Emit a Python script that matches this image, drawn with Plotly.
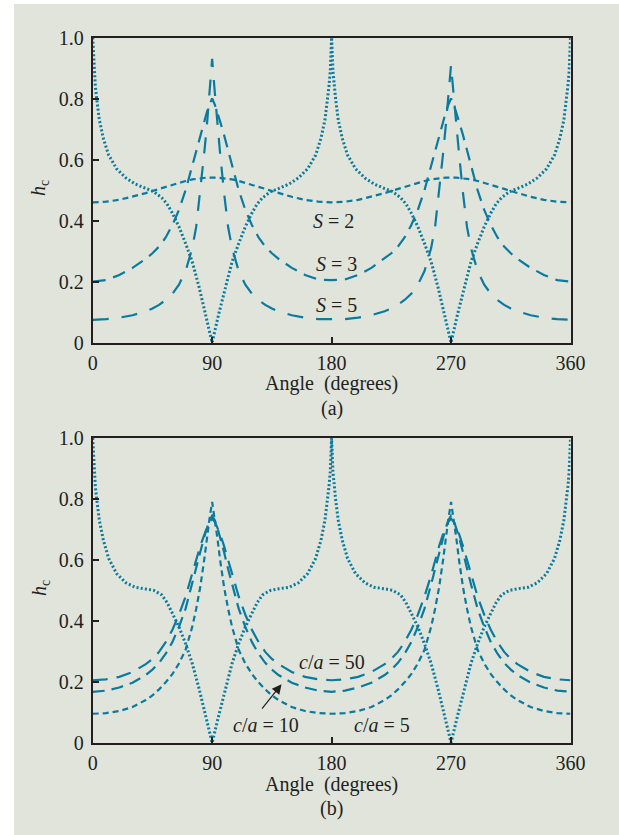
import plotly.graph_objects as go

# ---------------------------------------------------------------- data
# angle grid for the dotted reference curve (denser near the cusps)
ANG_DOT = [0, 1, 2, 3, 5, 8, 12, 18, 25, 32, 40, 46, 52, 56, 60, 65, 70, 75, 80, 85, 90,
           95, 100, 105, 110, 115, 120, 124, 128, 134, 140, 148, 155, 162, 168, 172, 175, 177, 178, 179, 180,
           181, 182, 183, 185, 188, 192, 198, 205, 212, 220, 226, 232, 236, 240, 245, 250, 255, 260, 265, 270,
           275, 280, 285, 290, 295, 300, 304, 308, 314, 320, 328, 335, 342, 348, 352, 355, 357, 358, 359, 360]

# angle grid for the dashed curves (denser near the peaks)
ANG_DSH = [0, 10, 20, 30, 40, 45, 50, 55, 60, 65, 70, 75, 78, 81, 84, 86, 88, 90,
           92, 94, 96, 99, 102, 105, 110, 115, 120, 125, 130, 135, 140, 150, 160, 170, 180,
           190, 200, 210, 220, 225, 230, 235, 240, 245, 250, 255, 258, 261, 264, 266, 268, 270,
           272, 274, 276, 279, 282, 285, 290, 295, 300, 305, 310, 315, 320, 330, 340, 350, 360]

# panel (a)
HC_DOT_A = [1.00, 0.89, 0.84, 0.80, 0.73, 0.67, 0.615, 0.57, 0.54, 0.52, 0.505, 0.495, 0.475, 0.455, 0.425, 0.38, 0.325, 0.265, 0.185, 0.095, 0.00,
            0.095, 0.185, 0.265, 0.325, 0.38, 0.425, 0.455, 0.475, 0.495, 0.505, 0.52, 0.54, 0.57, 0.615, 0.67, 0.73, 0.80, 0.84, 0.89, 1.00,
            0.89, 0.84, 0.80, 0.73, 0.67, 0.615, 0.57, 0.54, 0.52, 0.505, 0.495, 0.475, 0.455, 0.425, 0.38, 0.325, 0.265, 0.185, 0.095, 0.00,
            0.095, 0.185, 0.265, 0.325, 0.38, 0.425, 0.455, 0.475, 0.495, 0.505, 0.52, 0.54, 0.57, 0.615, 0.67, 0.73, 0.80, 0.84, 0.89, 1.00]

HC_S2 = [0.46, 0.462, 0.468, 0.478, 0.49, 0.497, 0.504, 0.511, 0.518, 0.524, 0.53, 0.535, 0.537, 0.539, 0.540, 0.541, 0.541, 0.542,
         0.541, 0.541, 0.540, 0.539, 0.537, 0.535, 0.53, 0.524, 0.518, 0.511, 0.504, 0.497, 0.49, 0.478, 0.468, 0.462, 0.46,
         0.462, 0.468, 0.478, 0.49, 0.497, 0.504, 0.511, 0.518, 0.524, 0.53, 0.535, 0.537, 0.539, 0.540, 0.541, 0.541, 0.542,
         0.541, 0.541, 0.540, 0.539, 0.537, 0.535, 0.53, 0.524, 0.518, 0.511, 0.504, 0.497, 0.49, 0.478, 0.468, 0.462, 0.46]

HC_S3 = [0.20, 0.205, 0.222, 0.245, 0.275, 0.293, 0.315, 0.345, 0.385, 0.435, 0.50, 0.58, 0.63, 0.68, 0.725, 0.755, 0.78, 0.80,
         0.78, 0.755, 0.725, 0.68, 0.63, 0.58, 0.50, 0.435, 0.385, 0.345, 0.315, 0.293, 0.275, 0.245, 0.222, 0.207, 0.205,
         0.207, 0.222, 0.245, 0.275, 0.293, 0.315, 0.345, 0.385, 0.435, 0.50, 0.58, 0.63, 0.68, 0.725, 0.755, 0.78, 0.80,
         0.78, 0.755, 0.725, 0.68, 0.63, 0.58, 0.50, 0.435, 0.385, 0.345, 0.315, 0.293, 0.275, 0.245, 0.222, 0.205, 0.20]

HC_S5 = [0.075, 0.077, 0.082, 0.09, 0.103, 0.112, 0.124, 0.14, 0.16, 0.19, 0.235, 0.31, 0.38, 0.49, 0.62, 0.71, 0.82, 0.93,
         0.82, 0.71, 0.62, 0.49, 0.38, 0.31, 0.235, 0.19, 0.16, 0.14, 0.124, 0.112, 0.103, 0.09, 0.082, 0.077, 0.077,
         0.077, 0.082, 0.09, 0.103, 0.112, 0.124, 0.14, 0.16, 0.19, 0.235, 0.31, 0.38, 0.49, 0.62, 0.71, 0.81, 0.91,
         0.81, 0.71, 0.62, 0.49, 0.38, 0.31, 0.235, 0.19, 0.16, 0.14, 0.124, 0.112, 0.103, 0.09, 0.082, 0.077, 0.075]

# panel (b)
HC_DOT_B = [1.00, 0.89, 0.84, 0.80, 0.73, 0.665, 0.605, 0.555, 0.525, 0.51, 0.505, 0.50, 0.485, 0.46, 0.425, 0.38, 0.325, 0.26, 0.18, 0.09, 0.00,
            0.09, 0.18, 0.26, 0.325, 0.38, 0.425, 0.46, 0.485, 0.50, 0.505, 0.51, 0.525, 0.555, 0.605, 0.665, 0.73, 0.80, 0.84, 0.89, 1.00,
            0.89, 0.84, 0.80, 0.73, 0.665, 0.605, 0.555, 0.525, 0.51, 0.505, 0.50, 0.485, 0.46, 0.425, 0.38, 0.325, 0.26, 0.18, 0.09, 0.00,
            0.09, 0.18, 0.26, 0.325, 0.38, 0.425, 0.46, 0.485, 0.50, 0.505, 0.51, 0.525, 0.555, 0.605, 0.665, 0.73, 0.80, 0.84, 0.89, 1.00]

HC_CA50 = [0.205, 0.208, 0.216, 0.232, 0.258, 0.275, 0.298, 0.33, 0.37, 0.42, 0.48, 0.55, 0.60, 0.645, 0.685, 0.705, 0.725, 0.735,
           0.725, 0.705, 0.685, 0.645, 0.60, 0.55, 0.48, 0.42, 0.37, 0.33, 0.298, 0.275, 0.258, 0.232, 0.216, 0.208, 0.205,
           0.208, 0.216, 0.232, 0.258, 0.275, 0.298, 0.33, 0.37, 0.42, 0.48, 0.55, 0.60, 0.645, 0.685, 0.705, 0.725, 0.735,
           0.725, 0.705, 0.685, 0.645, 0.60, 0.55, 0.48, 0.42, 0.37, 0.33, 0.298, 0.275, 0.258, 0.232, 0.216, 0.208, 0.205]

HC_CA10 = [0.167, 0.171, 0.181, 0.197, 0.222, 0.24, 0.262, 0.292, 0.33, 0.38, 0.44, 0.52, 0.57, 0.625, 0.675, 0.705, 0.73, 0.745,
           0.73, 0.705, 0.675, 0.625, 0.57, 0.52, 0.44, 0.38, 0.33, 0.292, 0.262, 0.24, 0.222, 0.197, 0.181, 0.171, 0.167,
           0.171, 0.181, 0.197, 0.222, 0.24, 0.262, 0.292, 0.33, 0.38, 0.44, 0.52, 0.57, 0.625, 0.675, 0.705, 0.73, 0.745,
           0.73, 0.705, 0.675, 0.625, 0.57, 0.52, 0.44, 0.38, 0.33, 0.292, 0.262, 0.24, 0.222, 0.197, 0.181, 0.171, 0.167]

HC_CA5 = [0.095, 0.097, 0.104, 0.117, 0.14, 0.155, 0.175, 0.198, 0.225, 0.26, 0.305, 0.38, 0.44, 0.51, 0.60, 0.67, 0.735, 0.79,
          0.735, 0.67, 0.60, 0.51, 0.44, 0.38, 0.305, 0.26, 0.225, 0.198, 0.175, 0.155, 0.14, 0.117, 0.104, 0.097, 0.095,
          0.097, 0.104, 0.117, 0.14, 0.155, 0.175, 0.198, 0.225, 0.26, 0.305, 0.38, 0.44, 0.51, 0.60, 0.67, 0.735, 0.79,
          0.735, 0.67, 0.60, 0.51, 0.44, 0.38, 0.305, 0.26, 0.225, 0.198, 0.175, 0.155, 0.14, 0.117, 0.104, 0.097, 0.095]

X_TICKS = [0, 90, 180, 270, 360]
Y_TICKS = [0, 0.2, 0.4, 0.6, 0.8, 1.0]
Y_TICK_TEXT = ["0", "0.2", "0.4", "0.6", "0.8", "1.0"]

# ---------------------------------------------------------------- style
W, H = 619, 835
BG = "#e0e4db"
INK = "#231f20"
TEAL = "#0a7a9e"
FONT = "Liberation Serif, Times New Roman, serif"
FS = 20

def px_x(p):
    return p / W

def px_y(p):
    return 1 - p / H

X_DOM = [px_x(92.7), px_x(570.5)]
Y_DOM_A = [px_y(342.7), px_y(37.5)]
Y_DOM_B = [px_y(742.7), px_y(438.0)]

fig = go.Figure()

def add_line(x, y, dash, width, xa, ya):
    fig.add_trace(go.Scatter(x=x, y=y, mode="lines", xaxis=xa, yaxis=ya,
                             line=dict(color=TEAL, width=width, dash=dash),
                             hoverinfo="skip", showlegend=False))

DOT = "2px,2.2px"
# panel (a)
add_line(ANG_DSH, HC_S2, "6px,4px", 2.2, "x", "y")
add_line(ANG_DSH, HC_S3, "13px,8px", 2.2, "x", "y")
add_line(ANG_DSH, HC_S5, "16px,13px", 2.2, "x", "y")
add_line(ANG_DOT, HC_DOT_A, DOT, 3, "x", "y")
# panel (b)
add_line(ANG_DSH, HC_CA5, "6px,4px", 2.2, "x2", "y2")
add_line(ANG_DSH, HC_CA10, "12px,7px", 2.2, "x2", "y2")
add_line(ANG_DSH, HC_CA50, "15px,9px", 2.2, "x2", "y2")
add_line(ANG_DOT, HC_DOT_B, DOT, 3, "x2", "y2")

xcommon = dict(range=[0, 360], domain=X_DOM, tickvals=X_TICKS, ticks="inside", ticklen=6,
               tickwidth=2, tickcolor=INK, showline=True, linewidth=2, linecolor=INK,
               mirror=True, showgrid=False, zeroline=False,
               tickfont=dict(family=FONT, size=FS, color=INK), ticklabelstandoff=1)
ycommon = dict(range=[0, 1], tickvals=Y_TICKS, ticktext=Y_TICK_TEXT, ticks="inside", ticklen=6,
               tickwidth=2, tickcolor=INK, showline=True, linewidth=2, linecolor=INK,
               mirror=True, showgrid=False, zeroline=False,
               tickfont=dict(family=FONT, size=FS, color=INK), ticklabelstandoff=3)

fig.update_layout(
    width=W, height=H, autosize=False,
    margin=dict(l=0, r=0, t=0, b=0, pad=0, autoexpand=False),
    paper_bgcolor=BG, plot_bgcolor=BG,
    xaxis=dict(anchor="y", **xcommon),
    yaxis=dict(anchor="x", domain=Y_DOM_A, **ycommon),
    xaxis2=dict(anchor="y2", **xcommon),
    yaxis2=dict(anchor="x2", domain=Y_DOM_B, **ycommon),
)

# white page edge on the left and top
fig.add_shape(type="rect", xref="paper", yref="paper", x0=0, x1=px_x(14), y0=0, y1=1,
              fillcolor="white", line=dict(width=0), layer="below")
fig.add_shape(type="rect", xref="paper", yref="paper", x0=0, x1=1, y0=px_y(4), y1=1,
              fillcolor="white", line=dict(width=0), layer="below")

tfont = dict(family=FONT, size=FS, color=INK)

def note(text, x, y, xref="paper", yref="paper", angle=0):
    fig.add_annotation(text=text, x=x, y=y, xref=xref, yref=yref, showarrow=False,
                       font=tfont, textangle=angle, xanchor="center", yanchor="middle")

# axis titles and panel tags
for tag, y_ax, y_tag, y_h in [("(a)", 384, 408, 188), ("(b)", 784, 808, 588)]:
    note("Angle  (degrees)", px_x(331.6), px_y(y_ax))
    note(tag, px_x(331.6), px_y(y_tag))
    note("<i>h</i><sub>c</sub>", px_x(40), px_y(y_h), angle=-90)

# curve labels, panel (a)
note("<i>S</i> = 2", 181.6, 0.40, "x", "y")
note("<i>S</i> = 3", 183.7, 0.258, "x", "y")
note("<i>S</i> = 5", 183.7, 0.122, "x", "y")

# curve labels, panel (b)
note("<i>c</i>/<i>a</i> = 50", 180.0, 0.265, "x2", "y2")
note("<i>c</i>/<i>a</i> = 10", 130.3, 0.058, "x2", "y2")
note("<i>c</i>/<i>a</i> = 5", 218.2, 0.058, "x2", "y2")

# arrow pointing at the c/a = 10 curve
fig.add_annotation(x=142.3, y=0.192, ax=126.7, ay=0.107, xref="x2", yref="y2",
                   axref="x2", ayref="y2", text="", showarrow=True, arrowhead=2,
                   arrowsize=1.6, arrowwidth=1.2, arrowcolor=INK, standoff=0)

fig.write_html("out.html",
               post_script="document.body.style.margin='0';document.body.style.overflow='hidden';")
